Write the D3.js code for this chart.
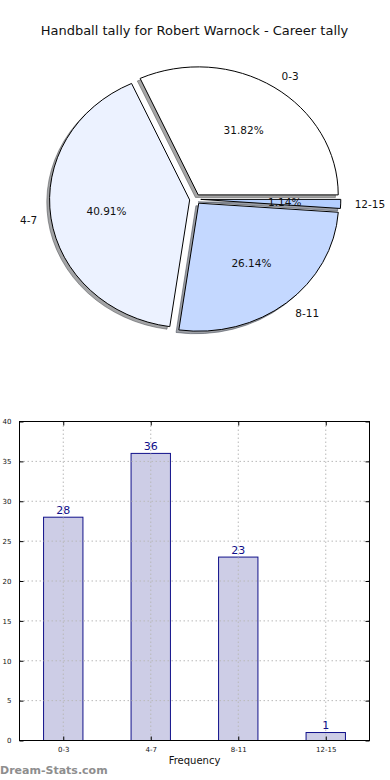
<!DOCTYPE html>
<html><head><meta charset="utf-8">
<script src="https://cdn.jsdelivr.net/npm/d3@7"></script>
<style>body{margin:0;background:#fff;}svg{display:block;font-family:"DejaVu Sans",sans-serif;}</style>
</head><body>
<script>
const title = "Handball tally for Robert Warnock - Career tally";
const categories = ["0-3", "4-7", "8-11", "12-15"];
const counts = [28, 36, 23, 1];
const pieColors = ["#ffffff", "#ecf2ff", "#c4d8ff", "#b4cfff"];
const yTicks = [0, 5, 10, 15, 20, 25, 30, 35, 40];
const xLabel = "Frequency";
const watermark = "Dream-Stats.com";

const W = 390, H = 780;
const svg = d3.select("body").append("svg").attr("width", W).attr("height", H);

svg.append("text").attr("x", 194.5).attr("y", 35).attr("text-anchor", "middle")
  .attr("font-size", 13).attr("fill", "#111").text(title);

// ---- Pie ----
const cx = 195.2, cy = 199.2, rx = 140, ry = 128, explode = 0.04;
const total = d3.sum(counts);
const angScale = d3.scaleLinear().domain([0, total]).range([0, 2 * Math.PI]);
const cum = d3.cumsum(counts);
const wedges = counts.map((v, i) => {
  const a0 = angScale(i === 0 ? 0 : cum[i - 1]), a1 = angScale(cum[i]);
  const mid = (a0 + a1) / 2;
  return {i, v, a0, a1, mid, ox: cx + explode * rx * Math.cos(mid), oy: cy - explode * ry * Math.sin(mid)};
});
const arc = d3.arc().innerRadius(0).outerRadius(1);
const arcPath = w => arc({startAngle: Math.PI / 2 - w.a0, endAngle: Math.PI / 2 - w.a1});
function shadowColor(c) {
  const r = d3.rgb(c);
  return `rgba(${Math.round(r.r * 0.3)},${Math.round(r.g * 0.3)},${Math.round(r.b * 0.3)},0.5)`;
}
const pie = svg.append("g");
pie.selectAll("path.sh").data(wedges).join("path").attr("class", "sh")
  .attr("transform", w => `translate(${w.ox - 0.02 * rx},${w.oy + 0.02 * ry}) scale(${rx},${ry})`)
  .attr("d", arcPath).attr("fill", w => shadowColor(pieColors[w.i]))
  .attr("stroke", w => shadowColor(pieColors[w.i])).attr("stroke-width", 1)
  .attr("vector-effect", "non-scaling-stroke");
pie.selectAll("path.wd").data(wedges).join("path").attr("class", "wd")
  .attr("transform", w => `translate(${w.ox},${w.oy}) scale(${rx},${ry})`)
  .attr("d", arcPath).attr("fill", w => pieColors[w.i])
  .attr("stroke", "#000").attr("stroke-width", 1).attr("stroke-linejoin", "round")
  .attr("vector-effect", "non-scaling-stroke");
pie.selectAll("text.lab").data(wedges).join("text").attr("class", "lab")
  .attr("x", w => w.ox + 1.1 * rx * Math.cos(w.mid))
  .attr("y", w => w.oy - 1.1 * ry * Math.sin(w.mid))
  .attr("text-anchor", w => Math.cos(w.mid) > 0 ? "start" : "end")
  .attr("dominant-baseline", "central").attr("font-size", 10.5).attr("fill", "#111")
  .text(w => categories[w.i]);
pie.selectAll("text.pct").data(wedges).join("text").attr("class", "pct")
  .attr("x", w => w.ox + 0.6 * rx * Math.cos(w.mid))
  .attr("y", w => w.oy - 0.6 * ry * Math.sin(w.mid))
  .attr("text-anchor", "middle").attr("dominant-baseline", "central")
  .attr("font-size", 10.5).attr("fill", "#111")
  .text(w => (w.v / total * 100).toFixed(2) + "%");

// ---- Bar chart ----
const L = 19.5, R = 369.5, T = 421.5, B = 740.5;
const x = d3.scaleLinear().domain([-0.5, categories.length - 0.5]).range([L, R]);
const y = d3.scaleLinear().domain([0, 40]).range([B, T]);
const bw = 0.45;
const g = svg.append("g");
g.selectAll("rect.bar").data(counts).join("rect").attr("class", "bar")
  .attr("x", (d, i) => x(i - bw / 2)).attr("width", x(bw) - x(0))
  .attr("y", d => y(d)).attr("height", d => y(0) - y(d))
  .attr("fill", "#cdcde6").attr("stroke", "#10108a").attr("stroke-width", 1);
// grid
g.selectAll("line.gy").data(yTicks).join("line").attr("class", "gy")
  .attr("x1", L).attr("x2", R).attr("y1", d => y(d)).attr("y2", d => y(d))
  .attr("stroke", "#b8b8b8").attr("stroke-dasharray", "1.5,2.5").attr("stroke-width", 1);
g.selectAll("line.gx").data(categories).join("line").attr("class", "gx")
  .attr("x1", (d, i) => x(i)).attr("x2", (d, i) => x(i)).attr("y1", T).attr("y2", B)
  .attr("stroke", "#b8b8b8").attr("stroke-dasharray", "1.5,2.5").attr("stroke-width", 1);
// value labels
g.selectAll("text.val").data(counts).join("text").attr("class", "val")
  .attr("x", (d, i) => x(i)).attr("y", d => y(d) - 3.5).attr("text-anchor", "middle")
  .attr("font-size", 11).attr("fill", "#10108a").text(d => d);
// frame
g.append("rect").attr("x", L).attr("y", T).attr("width", R - L).attr("height", B - T)
  .attr("fill", "none").attr("stroke", "#000").attr("stroke-width", 1);
// y ticks
const ya = g.append("g").attr("transform", `translate(${L},0)`)
  .call(d3.axisLeft(y).tickValues(yTicks).tickSize(-4).tickPadding(8));
ya.select(".domain").remove();
ya.selectAll("text").attr("font-size", 7).attr("font-family", "DejaVu Sans").attr("fill", "#111");
ya.selectAll("line").attr("stroke", "#000");
const yr = g.append("g").attr("transform", `translate(${R},0)`)
  .call(d3.axisRight(y).tickValues(yTicks).tickSize(-4).tickFormat(""));
yr.select(".domain").remove();
yr.selectAll("line").attr("stroke", "#000");
// x ticks
const xa = g.append("g").attr("transform", `translate(0,${B})`)
  .call(d3.axisBottom(x).tickValues(d3.range(categories.length)).tickFormat(i => categories[i]).tickSize(-4).tickPadding(7));
xa.select(".domain").remove();
xa.selectAll("text").attr("font-size", 7).attr("font-family", "DejaVu Sans").attr("fill", "#111");
xa.selectAll("line").attr("stroke", "#000");
const xt = g.append("g").attr("transform", `translate(0,${T})`)
  .call(d3.axisTop(x).tickValues(d3.range(categories.length)).tickSize(-4).tickFormat(""));
xt.select(".domain").remove();
xt.selectAll("line").attr("stroke", "#000");

svg.append("text").attr("x", (L + R) / 2).attr("y", 764).attr("text-anchor", "middle")
  .attr("font-size", 10).attr("fill", "#111").text(xLabel);
svg.append("text").attr("x", 0).attr("y", 774).attr("font-size", 11).attr("font-weight", "bold")
  .attr("fill", "#8e8e8e").text(watermark);
</script>
</body></html>
